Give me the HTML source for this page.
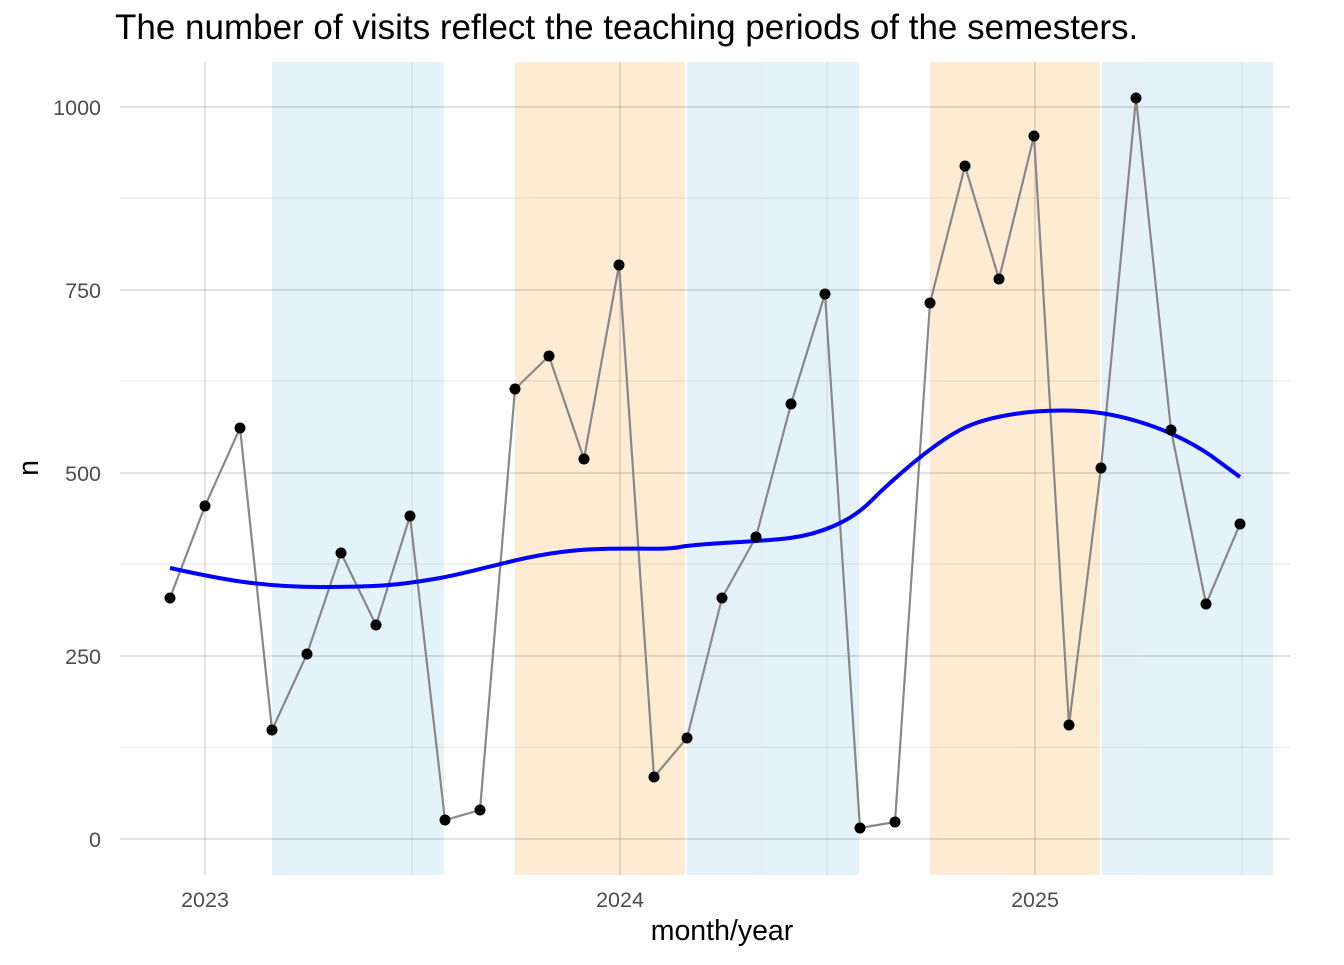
<!DOCTYPE html>
<html><head><style>body{margin:0;background:#fff}</style></head><body>
<svg width="1344" height="960" xmlns="http://www.w3.org/2000/svg" font-family="Liberation Sans, sans-serif">
<rect width="1344" height="960" fill="#fff"/>
<g opacity="0.78">
<rect x="272" y="62" width="172" height="813" fill="#ddeef8"/>
<rect x="515" y="62" width="170" height="813" fill="#fde6c6"/>
<rect x="687" y="62" width="172" height="813" fill="#ddeef8"/>
<rect x="930" y="62" width="170" height="813" fill="#fde6c6"/>
<rect x="1102" y="62" width="171" height="813" fill="#ddeef8"/>
</g>
<g stroke="#000" stroke-opacity="0.08" stroke-width="1.2">
<line x1="120" x2="1290" y1="747.5" y2="747.5"/><line x1="120" x2="1290" y1="564" y2="564"/><line x1="120" x2="1290" y1="381" y2="381"/><line x1="120" x2="1290" y1="198" y2="198"/>
<line x1="412" x2="412" y1="62" y2="875"/><line x1="827" x2="827" y1="62" y2="875"/><line x1="1242" x2="1242" y1="62" y2="875"/>
</g>
<g stroke="#000" stroke-opacity="0.11" stroke-width="2">
<line x1="120" x2="1290" y1="839" y2="839"/><line x1="120" x2="1290" y1="656" y2="656"/><line x1="120" x2="1290" y1="473" y2="473"/><line x1="120" x2="1290" y1="290" y2="290"/><line x1="120" x2="1290" y1="107" y2="107"/>
<line x1="205" x2="205" y1="62" y2="875"/><line x1="620" x2="620" y1="62" y2="875"/><line x1="1035" x2="1035" y1="62" y2="875"/>
</g>
<polyline fill="none" stroke="#888" stroke-width="2.2" points="170,598 205,506 240,428 272,730 307,654 341,553 376,625 410,516 445,820 480,810 515,389 549,356 584,459 619,265 654,777 687,738 722,598 756,537 791,404 825,294 860,828 895,822 930,303 965,166 999,279 1034,136 1069,725 1101,468 1136,98 1171,430 1206,604 1240,524"/>
<path fill="none" stroke="#0000ff" stroke-width="4" d="M170,568 C220,579 260,587 320,587 S400,585 440,578 S520,556 570,551 S660,551 680,547 S760,542 790,538 S850,522 870,502 S930,446 960,430 S1040,409 1080,411 S1170,428 1210,455 L1240,477"/>
<g fill="#000">
<circle cx="170" cy="598" r="5.5"/><circle cx="205" cy="506" r="5.5"/><circle cx="240" cy="428" r="5.5"/><circle cx="272" cy="730" r="5.5"/><circle cx="307" cy="654" r="5.5"/><circle cx="341" cy="553" r="5.5"/><circle cx="376" cy="625" r="5.5"/><circle cx="410" cy="516" r="5.5"/><circle cx="445" cy="820" r="5.5"/><circle cx="480" cy="810" r="5.5"/><circle cx="515" cy="389" r="5.5"/><circle cx="549" cy="356" r="5.5"/><circle cx="584" cy="459" r="5.5"/><circle cx="619" cy="265" r="5.5"/><circle cx="654" cy="777" r="5.5"/><circle cx="687" cy="738" r="5.5"/><circle cx="722" cy="598" r="5.5"/><circle cx="756" cy="537" r="5.5"/><circle cx="791" cy="404" r="5.5"/><circle cx="825" cy="294" r="5.5"/><circle cx="860" cy="828" r="5.5"/><circle cx="895" cy="822" r="5.5"/><circle cx="930" cy="303" r="5.5"/><circle cx="965" cy="166" r="5.5"/><circle cx="999" cy="279" r="5.5"/><circle cx="1034" cy="136" r="5.5"/><circle cx="1069" cy="725" r="5.5"/><circle cx="1101" cy="468" r="5.5"/><circle cx="1136" cy="98" r="5.5"/><circle cx="1171" cy="430" r="5.5"/><circle cx="1206" cy="604" r="5.5"/><circle cx="1240" cy="524" r="5.5"/>
</g>
<g fill="#4d4d4d" font-size="21.5" text-anchor="end">
<text x="101" y="847">0</text><text x="101" y="664">250</text><text x="101" y="481">500</text><text x="101" y="298">750</text><text x="101" y="115">1000</text>
</g>
<g fill="#4d4d4d" font-size="21.5" text-anchor="middle">
<text x="205" y="907">2023</text><text x="620" y="907">2024</text><text x="1035" y="907">2025</text>
</g>
<text x="722" y="940" font-size="28.5" text-anchor="middle">month/year</text>
<text transform="translate(38,468) rotate(-90)" font-size="28.5" text-anchor="middle">n</text>
<text x="115" y="39" font-size="35">The number of visits reflect the teaching periods of the semesters.</text>
</svg>
</body></html>
